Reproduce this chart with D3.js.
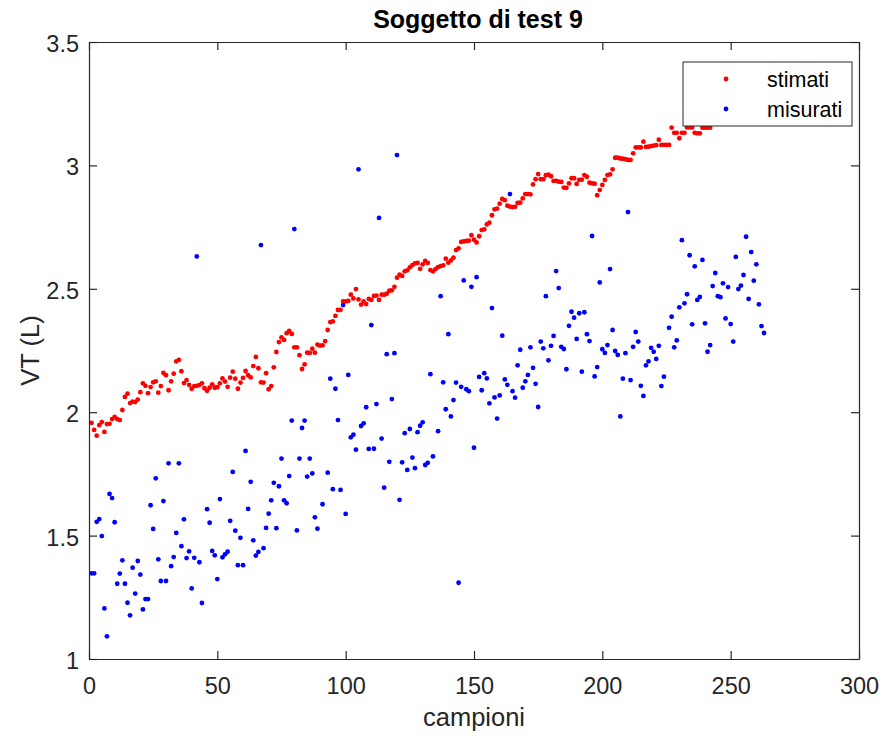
<!DOCTYPE html>
<html>
<head>
<meta charset="utf-8">
<script src="https://cdn.jsdelivr.net/npm/d3@7"></script>
<style>
  html, body { margin: 0; padding: 0; background: #fff; }
  svg { display: block; }
</style>
</head>
<body>
<svg id="chart" width="895" height="738"></svg>
<script>
// ---------- data ----------
const chartTitle = "Soggetto di test 9";
const xLabel = "campioni";
const yLabel = "VT (L)";
const seriesNames = ["stimati", "misurati"];
const xTicks = [0, 50, 100, 150, 200, 250, 300];
const yTicks = [1, 1.5, 2, 2.5, 3, 3.5];

// "stimati" (estimated), one value per sample starting at sample 1
const stimati = [
  1.957, 1.928, 1.905, 1.948, 1.960, 1.920, 1.952, 1.953, 1.972, 1.981,
  1.972, 1.968, 2.009, 2.062, 2.075, 2.037, 2.043, 2.041, 2.051, 2.081,
  2.117, 2.107, 2.077, 2.102, 2.121, 2.125, 2.079, 2.106, 2.159, 2.150,
  2.089, 2.125, 2.156, 2.206, 2.212, 2.166, 2.118, 2.130, 2.111, 2.095,
  2.106, 2.107, 2.110,
  2.117, 2.097, 2.087, 2.099, 2.113, 2.099, 2.101, 2.117, 2.137, 2.124,
  2.103, 2.140, 2.164, 2.136, 2.095, 2.120, 2.139, 2.167, 2.150, 2.141,
  2.187, 2.224, 2.178, 2.121, 2.120, 2.158, 2.093, 2.106, 2.182, 2.244,
  2.284, 2.303, 2.293, 2.320, 2.329, 2.317, 2.263, 2.263, 2.231, 2.175,
  2.194, 2.241, 2.240, 2.257, 2.241, 2.274, 2.270,
  2.271, 2.288, 2.333, 2.365, 2.368, 2.390, 2.414, 2.415, 2.449, 2.449,
  2.451, 2.476, 2.461, 2.499, 2.457, 2.436, 2.449, 2.438, 2.459, 2.455,
  2.471, 2.472, 2.455, 2.476, 2.476, 2.480, 2.492, 2.494, 2.508, 2.545,
  2.557, 2.552, 2.571, 2.575, 2.587, 2.596, 2.603, 2.605, 2.581, 2.599,
  2.613, 2.605, 2.576, 2.571, 2.580,
  2.588, 2.592, 2.595, 2.622, 2.606, 2.615, 2.626, 2.657, 2.664, 2.690,
  2.692, 2.694, 2.695, 2.717, 2.699, 2.688, 2.713, 2.738, 2.741, 2.761,
  2.768, 2.798, 2.822, 2.825, 2.845, 2.864, 2.859, 2.837, 2.833, 2.831,
  2.832, 2.848, 2.849, 2.866, 2.884, 2.884, 2.883, 2.923, 2.944, 2.965,
  2.944, 2.944, 2.960, 2.963,
  2.956, 2.937, 2.937, 2.934, 2.933, 2.910, 2.909, 2.927, 2.948, 2.948,
  2.925, 2.941, 2.942, 2.961, 2.954, 2.930, 2.927, 2.926, 2.879, 2.900,
  2.921, 2.941, 2.961, 2.964, 2.984, 3.031, 3.031, 3.028, 3.027, 3.025,
  3.022, 3.022, 3.049, 3.073, 3.073, 3.073, 3.096, 3.075, 3.076, 3.078,
  3.080, 3.082, 3.104, 3.083,
  3.083, 3.083, 3.083, 3.153, 3.132, 3.132, 3.110, 3.132, 3.132, 3.154,
  3.154, 3.154, 3.132, 3.130, 3.130, 3.153, 3.153, 3.153, 3.153
];

// "misurati" (measured), one slot per sample starting at sample 1 (null = not visible)
const misurati = [
  1.347, 1.347, 1.556, 1.567, 1.498, 1.205, 1.092, 1.669, 1.652, 1.554,
  1.305, 1.346, 1.400, 1.305, 1.228, 1.177, 1.370, 1.265, 1.397, 1.342,
  1.201, 1.243, 1.243, 1.623, 1.527, 1.732, 1.404, 1.316, 1.640, 1.316,
  1.793, 1.376, 1.413, 1.511, 1.793, 1.457, 1.566, 1.409, 1.436, 1.286,
  1.410, 2.631, 1.392, 1.227,
  null,
  1.607, 1.552, 1.438, 1.420, 1.324, 1.648, 1.412, 1.424, 1.435, 1.560,
  1.758, 1.520, 1.380, 1.491, 1.380, 1.843, 1.608, 1.718, 1.481, 1.419,
  1.434, 2.677, 1.449, 1.531, 1.589, 1.643, 1.714, 1.530, 1.700, 1.812,
  1.643, 1.631, 1.741, 1.966, 2.742, 1.521, 1.812, 1.936, 1.966, 1.739,
  1.812, 1.752, 1.574, 1.528,
  null,
  1.627, null,
  1.755, 2.136, 1.688, 2.095, 1.968, 1.685, 2.434, 1.588, 2.151, 1.898,
  1.909, 1.848, 2.984, 1.944, 1.955, 2.020, 1.851, 2.353, 1.852, 2.033,
  2.787, 1.893, 1.694, 2.235, 1.799, 2.053, 2.239, 3.042, 1.645, 1.797,
  1.915, 1.766, 1.932, 1.816, 1.773, 1.919, 1.945, 1.959, 1.786, 1.795,
  2.154, 1.821,
  null,
  1.923, 2.470, 2.121, 2.012, 2.316, 1.983, 2.049, 2.120, 1.309, 2.103,
  2.534, 2.093, 2.085, 2.508, 1.856, 2.547, 2.143, 2.089, 2.158, 2.137,
  2.036, 2.422, 2.060, 1.974, 2.068, 2.310, 2.133, 2.111, 2.884, 2.085,
  2.059, 2.190, 2.253, 2.099, 2.125, 2.151, 2.263, 2.180, 2.115, 2.021,
  2.286, 2.259, 2.470, 2.210,
  2.269, 2.309, 2.572, 2.503, 2.265, 2.256, 2.174, 2.350, 2.407, 2.383,
  2.297, 2.401, 2.164, 2.405, 2.316, 2.288, 2.714, 2.145, 2.183, 2.526,
  2.255, 2.240, 2.272, 2.580, 2.333, 2.248, 2.232, 1.983, 2.136, 2.239,
  2.811, 2.130, 2.265, 2.325, 2.286, 2.107, 2.066, 2.190, 2.206, 2.261,
  2.245, 2.216, 2.269, 2.106, 2.144,
  null,
  2.342, 2.387, 2.263, 2.291, 2.425, 2.697, 2.441, 2.478, 2.636, 2.356,
  2.591, 2.455, 2.467, 2.617, 2.360, 2.245, 2.272, 2.511, 2.564, 2.470,
  2.466, 2.522, 2.380, 2.507, 2.357, 2.286, 2.629, 2.499, 2.513, 2.556,
  2.711, 2.459, 2.649, 2.533, 2.599, 2.437, 2.349, 2.321
];

// ---------- drawing ----------
const W = 895, H = 738;
const margin = { top: 42, right: 36, bottom: 79, left: 89 };
const iw = W - margin.left - margin.right;
const ih = H - margin.top - margin.bottom;
const axisColor = "#262626";
const fontFam = "'Liberation Sans', Arial, Helvetica, sans-serif";
const colors = ["#ff0000", "#0000ff"];

const svg = d3.select("#chart");
svg.append("rect").attr("width", W).attr("height", H).attr("fill", "#fff");

const x = d3.scaleLinear().domain([0, 300]).range([margin.left, margin.left + iw]);
const y = d3.scaleLinear().domain([1, 3.5]).range([margin.top + ih, margin.top]);

const toPts = arr => arr.map((v, i) => ({ s: i + 1, v })).filter(d => d.v !== null);
const series = [toPts(stimati), toPts(misurati)];

// points
const pg = svg.append("g");
series.forEach((pts, k) => {
  pg.append("g").selectAll("circle").data(pts).join("circle")
    .attr("cx", d => x(d.s)).attr("cy", d => y(d.v))
    .attr("r", 2.4).attr("fill", colors[k]);
});

// axes (box with inward ticks)
const tick = 8;
function styleAxis(g, showLabels) {
  g.selectAll("path").attr("stroke", axisColor).attr("stroke-width", 1.2);
  g.selectAll("line").attr("stroke", axisColor).attr("stroke-width", 1.2);
  g.selectAll("text").attr("fill", axisColor)
    .style("font-family", fontFam).style("font-size", "23.5px");
  if (!showLabels) g.selectAll("text").remove();
}
svg.append("g").attr("transform", `translate(0,${margin.top + ih})`)
  .call(d3.axisBottom(x).tickValues(xTicks).tickFormat(d3.format("d"))
    .tickSizeInner(-tick).tickSizeOuter(0).tickPadding(18))
  .call(g => styleAxis(g, true));
svg.append("g").attr("transform", `translate(0,${margin.top})`)
  .call(d3.axisTop(x).tickValues(xTicks).tickSizeInner(-tick).tickSizeOuter(0))
  .call(g => styleAxis(g, false));
svg.append("g").attr("transform", `translate(${margin.left},0)`)
  .call(d3.axisLeft(y).tickValues(yTicks).tickFormat(d => Number.isInteger(d) ? d3.format("d")(d) : d3.format(".1f")(d))
    .tickSizeInner(-tick).tickSizeOuter(0).tickPadding(10))
  .call(g => styleAxis(g, true))
  .call(g => g.selectAll("text").attr("dy", "0.4em"));
svg.append("g").attr("transform", `translate(${margin.left + iw},0)`)
  .call(d3.axisRight(y).tickValues(yTicks).tickSizeInner(-tick).tickSizeOuter(0))
  .call(g => styleAxis(g, false));

// title & labels
svg.append("text").attr("x", margin.left + iw / 2 + 4).attr("y", 28)
  .attr("text-anchor", "middle").attr("fill", "#000")
  .style("font-family", fontFam).style("font-size", "25px").style("font-weight", "bold")
  .text(chartTitle);
svg.append("text").attr("x", margin.left + iw / 2).attr("y", 726)
  .attr("text-anchor", "middle").attr("fill", axisColor)
  .style("font-family", fontFam).style("font-size", "25.5px")
  .text(xLabel);
svg.append("text").attr("transform", `translate(39,${margin.top + ih / 2}) rotate(-90)`)
  .attr("text-anchor", "middle").attr("fill", axisColor)
  .style("font-family", fontFam).style("font-size", "25.5px")
  .text(yLabel);

// legend
const lg = svg.append("g");
lg.append("rect").attr("x", 683).attr("y", 62).attr("width", 169).attr("height", 64)
  .attr("fill", "#fff").attr("stroke", axisColor).attr("stroke-width", 1);
seriesNames.forEach((name, k) => {
  const cy = 79 + k * 30;
  lg.append("circle").attr("cx", 726).attr("cy", cy).attr("r", 2.4).attr("fill", colors[k]);
  lg.append("text").attr("x", 767).attr("y", cy).attr("dy", "0.35em")
    .attr("fill", "#000").style("font-family", fontFam).style("font-size", "21.5px")
    .text(name);
});
</script>
</body>
</html>
